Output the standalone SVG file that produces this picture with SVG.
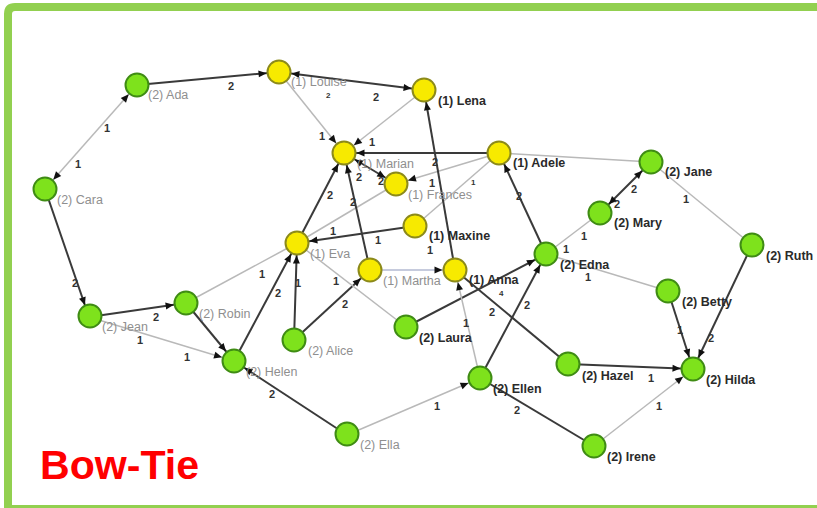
<svg xmlns="http://www.w3.org/2000/svg" width="817" height="508" viewBox="0 0 817 508">
  <style>
    .dk { stroke: #3a3a3a; stroke-width: 2; }
    .lt { stroke: #b9b9b9; stroke-width: 1.5; }
    .bl { stroke: #b3bad2; stroke-width: 1.5; }
    .y circle { fill: #f7ea00; stroke: #8c8a1a; stroke-width: 2; }
    .g circle { fill: #7ee21c; stroke: #3f8c14; stroke-width: 2; }
    .nl { font-family: "Liberation Sans", Arial, sans-serif; font-size: 12.5px; }
    .nd { fill: #2a2a2a; font-weight: bold; }
    .nf { fill: #8f8f8f; }
    .w { font-family: "Liberation Sans", Arial, sans-serif; font-size: 11px; fill: #333; font-weight: bold; }
  </style>
  <defs>
    <marker id="arr" viewBox="-24 -5 24 10" refX="0" refY="0" markerWidth="24" markerHeight="10" markerUnits="userSpaceOnUse" orient="auto-start-reverse">
      <path d="M-20.5,-3.5 L-12.5,0 L-20.5,3.5 z" fill="#111"/>
    </marker>
  </defs>

  <rect width="817" height="508" fill="#ffffff"/>

  <!-- frame -->
  <path d="M8,508 V14 Q8,7 15,7 H817" fill="none" stroke="#92d050" stroke-width="8"/>
  <line x1="4" y1="506.5" x2="817" y2="506.5" stroke="#92d050" stroke-width="3"/>

  <!-- connectors -->
  <g id="edges">
    <line class="lt" x1="45" y1="189" x2="137" y2="85" marker-start="url(#arr)" marker-end="url(#arr)"/>
    <line class="dk" x1="137" y1="85" x2="279" y2="72" marker-end="url(#arr)"/>
    <line class="dk" x1="279" y1="72" x2="424" y2="90" marker-start="url(#arr)" marker-end="url(#arr)"/>
    <line class="lt" x1="279" y1="72" x2="344" y2="153" marker-end="url(#arr)"/>
    <line class="lt" x1="424" y1="90" x2="344" y2="153" marker-end="url(#arr)"/>
    <line class="dk" x1="499" y1="153" x2="344" y2="153" marker-end="url(#arr)"/>
    <line class="dk" x1="344" y1="153" x2="396" y2="184" marker-start="url(#arr)" marker-end="url(#arr)"/>
    <line class="lt" x1="499" y1="153" x2="396" y2="184" marker-end="url(#arr)"/>
    <line class="lt" x1="499" y1="153" x2="415" y2="226"/>
    <line class="lt" x1="396" y1="184" x2="297" y2="243"/>
    <line class="dk" x1="297" y1="243" x2="344" y2="153" marker-end="url(#arr)"/>
    <line class="dk" x1="370" y1="270" x2="344" y2="153" marker-end="url(#arr)"/>
    <line class="dk" x1="415" y1="226" x2="297" y2="243" marker-end="url(#arr)"/>
    <line class="bl" x1="370" y1="270" x2="455" y2="270" marker-end="url(#arr)"/>
    <line class="dk" x1="455" y1="270" x2="424" y2="90" marker-end="url(#arr)"/>
    <line class="dk" x1="294" y1="340" x2="370" y2="270" marker-end="url(#arr)"/>
    <line class="dk" x1="294" y1="340" x2="297" y2="243" marker-end="url(#arr)"/>
    <line class="lt" x1="297" y1="243" x2="406" y2="327"/>
    <line class="dk" x1="406" y1="327" x2="546" y2="254" marker-end="url(#arr)"/>
    <line class="dk" x1="455" y1="270" x2="568" y2="364"/>
    <line class="lt" x1="480" y1="378" x2="455" y2="270" marker-end="url(#arr)"/>
    <line class="dk" x1="480" y1="378" x2="546" y2="254" marker-end="url(#arr)"/>
    <line class="lt" x1="347" y1="435" x2="480" y2="378" marker-end="url(#arr)"/>
    <line class="dk" x1="347" y1="435" x2="234" y2="361" marker-end="url(#arr)"/>
    <line class="dk" x1="480" y1="378" x2="594" y2="446"/>
    <line class="lt" x1="594" y1="446" x2="693" y2="369" marker-end="url(#arr)"/>
    <line class="dk" x1="568" y1="364" x2="693" y2="369" marker-end="url(#arr)"/>
    <line class="dk" x1="668" y1="291" x2="693" y2="369" marker-end="url(#arr)"/>
    <line class="dk" x1="752" y1="245" x2="693" y2="369" marker-end="url(#arr)"/>
    <line class="lt" x1="651" y1="162" x2="752" y2="245"/>
    <line class="lt" x1="499" y1="153" x2="651" y2="162"/>
    <line class="dk" x1="600" y1="213" x2="651" y2="162" marker-start="url(#arr)" marker-end="url(#arr)"/>
    <line class="lt" x1="546" y1="254" x2="600" y2="213"/>
    <line class="dk" x1="546" y1="254" x2="499" y2="153" marker-end="url(#arr)"/>
    <line class="lt" x1="546" y1="254" x2="668" y2="291"/>
    <line class="dk" x1="89" y1="317" x2="186" y2="303" marker-end="url(#arr)"/>
    <line class="dk" x1="45" y1="189" x2="89" y2="317" marker-end="url(#arr)"/>
    <line class="lt" x1="89" y1="317" x2="234" y2="361" marker-end="url(#arr)"/>
    <line class="dk" x1="186" y1="303" x2="234" y2="361" marker-end="url(#arr)"/>
    <line class="lt" x1="186" y1="303" x2="297" y2="243"/>
    <line class="dk" x1="234" y1="361" x2="297" y2="243" marker-end="url(#arr)"/>
  </g>

  <!-- connector weights -->
  <g id="weights" class="w">
    <text x="104" y="132">1</text>
    <text x="75" y="168">1</text>
    <text x="228" y="90">2</text>
    <text x="373" y="101">2</text>
    <text x="326" y="98" font-size="8">2</text>
    <text x="319" y="140">1</text>
    <text x="369" y="146">1</text>
    <text x="356" y="181">2</text>
    <text x="378" y="185">2</text>
    <text x="429" y="187">1</text>
    <text x="471" y="185" font-size="8">1</text>
    <text x="432" y="166">2</text>
    <text x="327" y="199">2</text>
    <text x="350" y="206">2</text>
    <text x="330" y="235">1</text>
    <text x="375" y="244">1</text>
    <text x="427" y="254">1</text>
    <text x="342" y="308">2</text>
    <text x="295" y="287">1</text>
    <text x="333" y="285">1</text>
    <text x="489" y="316">2</text>
    <text x="499" y="296" font-size="8">4</text>
    <text x="463" y="327">1</text>
    <text x="524" y="309">2</text>
    <text x="434" y="410">1</text>
    <text x="269" y="398">2</text>
    <text x="514" y="414">2</text>
    <text x="656" y="410">1</text>
    <text x="648" y="382">1</text>
    <text x="677" y="334">1</text>
    <text x="708" y="342">2</text>
    <text x="683" y="203">1</text>
    <text x="631" y="193">2</text>
    <text x="614" y="208">2</text>
    <text x="581" y="240">1</text>
    <text x="563" y="253">1</text>
    <text x="516" y="200">2</text>
    <text x="585" y="281">1</text>
    <text x="153" y="321">2</text>
    <text x="72" y="287">2</text>
    <text x="137" y="344">1</text>
    <text x="184" y="361">1</text>
    <text x="259" y="278">1</text>
    <text x="275" y="297">2</text>
  </g>

  <!-- nodes -->
  <g id="ada" class="g"><circle cx="137" cy="85" r="11.5"/><text class="nl nf" x="148" y="99">(2) Ada</text></g>
  <g id="cara" class="g"><circle cx="45" cy="189" r="11.5"/><text class="nl nf" x="57" y="204">(2) Cara</text></g>
  <g id="louise" class="y"><circle cx="279" cy="72" r="11.5"/><text class="nl nf" x="291" y="86">(1) Louise</text></g>
  <g id="lena" class="y"><circle cx="424" cy="90" r="11.5"/><text class="nl nd" x="438" y="105">(1) Lena</text></g>
  <g id="marian" class="y"><circle cx="344" cy="153" r="11.5"/><text class="nl nf" x="357" y="168">(1) Marian</text></g>
  <g id="adele" class="y"><circle cx="499" cy="153" r="11.5"/><text class="nl nd" x="513" y="167">(1) Adele</text></g>
  <g id="frances" class="y"><circle cx="396" cy="184" r="11.5"/><text class="nl nf" x="408" y="199">(1) Frances</text></g>
  <g id="jane" class="g"><circle cx="651" cy="162" r="11.5"/><text class="nl nd" x="665" y="176">(2) Jane</text></g>
  <g id="mary" class="g"><circle cx="600" cy="213" r="11.5"/><text class="nl nd" x="614" y="227">(2) Mary</text></g>
  <g id="maxine" class="y"><circle cx="415" cy="226" r="11.5"/><text class="nl nd" x="429" y="240">(1) Maxine</text></g>
  <g id="eva" class="y"><circle cx="297" cy="243" r="11.5"/><text class="nl nf" x="310" y="258">(1) Eva</text></g>
  <g id="ruth" class="g"><circle cx="752" cy="245" r="11.5"/><text class="nl nd" x="766" y="260">(2) Ruth</text></g>
  <g id="edna" class="g"><circle cx="546" cy="254" r="11.5"/><text class="nl nd" x="560" y="269">(2) Edna</text></g>
  <g id="martha" class="y"><circle cx="370" cy="270" r="11.5"/><text class="nl nf" x="383" y="285">(1) Martha</text></g>
  <g id="anna" class="y"><circle cx="455" cy="270" r="11.5"/><text class="nl nd" x="469" y="284">(1) Anna</text></g>
  <g id="betty" class="g"><circle cx="668" cy="291" r="11.5"/><text class="nl nd" x="682" y="306">(2) Betty</text></g>
  <g id="jean" class="g"><circle cx="90" cy="316" r="11.5"/><text class="nl nf" x="102" y="331">(2) Jean</text></g>
  <g id="robin" class="g"><circle cx="186" cy="303" r="11.5"/><text class="nl nf" x="199" y="318">(2) Robin</text></g>
  <g id="alice" class="g"><circle cx="294" cy="340" r="11.5"/><text class="nl nf" x="308" y="355">(2) Alice</text></g>
  <g id="laura" class="g"><circle cx="406" cy="327" r="11.5"/><text class="nl nd" x="419" y="342">(2) Laura</text></g>
  <g id="helen" class="g"><circle cx="234" cy="361" r="11.5"/><text class="nl nf" x="246" y="376">(2) Helen</text></g>
  <g id="hazel" class="g"><circle cx="568" cy="364" r="11.5"/><text class="nl nd" x="582" y="380">(2) Hazel</text></g>
  <g id="hilda" class="g"><circle cx="693" cy="369" r="11.5"/><text class="nl nd" x="706" y="384">(2) Hilda</text></g>
  <g id="ellen" class="g"><circle cx="480" cy="378" r="11.5"/><text class="nl nd" x="493" y="393">(2) Ellen</text></g>
  <g id="ella" class="g"><circle cx="347" cy="434" r="11.5"/><text class="nl nf" x="360" y="449">(2) Ella</text></g>
  <g id="irene" class="g"><circle cx="594" cy="446" r="11.5"/><text class="nl nd" x="607" y="461">(2) Irene</text></g>

  <!-- title -->
  <text x="40" y="479" font-family="'Liberation Sans', Arial, sans-serif" font-size="40" font-weight="bold" fill="#ff0000" textLength="159" lengthAdjust="spacingAndGlyphs">Bow-Tie</text>
</svg>
